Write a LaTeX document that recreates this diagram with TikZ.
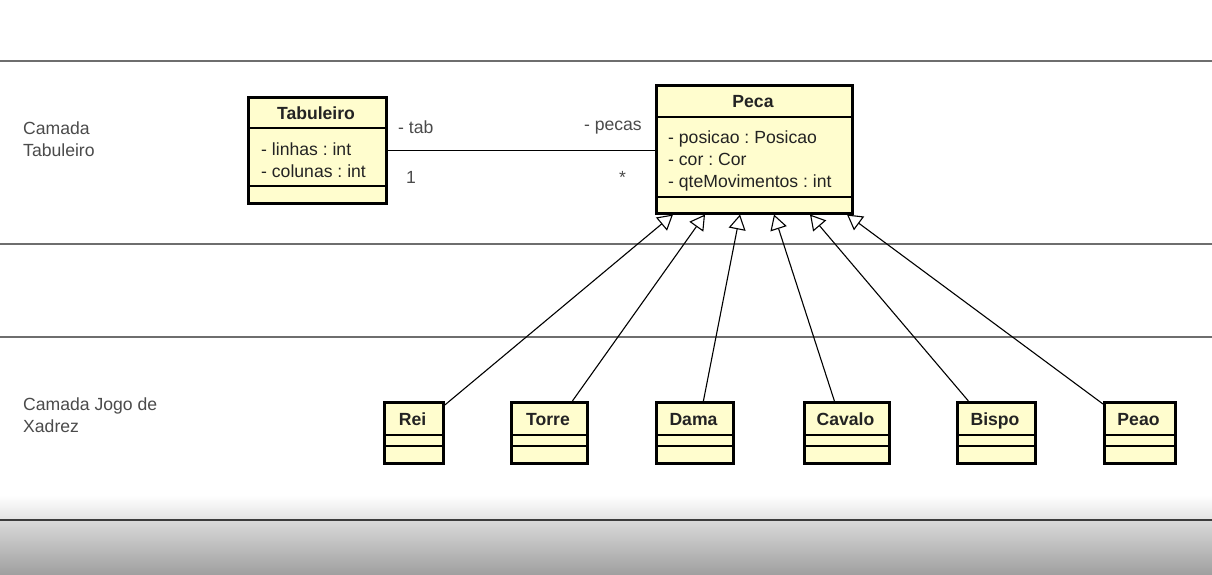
\documentclass[tikz,border=0pt]{standalone}
\usepackage{fontspec}
\setmainfont{Liberation Sans}
\usetikzlibrary{arrows.meta,calc}
\definecolor{clsfill}{RGB}{255,253,206}
\definecolor{txt}{RGB}{35,35,35}
\definecolor{lbl}{RGB}{75,75,75}
\definecolor{sep}{RGB}{110,110,110}
\frenchspacing
\begin{document}
\frenchspacing
\begin{tikzpicture}[x=1pt,y=-1pt,
  cls/.style={draw=black, line width=2.8pt, fill=clsfill, rectangle, inner sep=0pt, anchor=north west},
  div/.style={draw=black, line width=1.2pt},
  cname/.style={font=\fontsize{17.6pt}{20pt}\selectfont\bfseries, text=txt, inner sep=0pt, anchor=base},
  attr/.style={font=\fontsize{17.6pt}{20pt}\selectfont, text=txt, inner sep=0pt, anchor=base west},
  lab/.style={font=\fontsize{17.6pt}{20pt}\selectfont, text=lbl, inner sep=0pt},
  lane/.style={draw=sep, line width=1.2pt},
  gen/.style={draw=black, line width=1.1pt, -{Triangle[open, length=15pt, width=17pt, line width=1.1pt, fill=white]}},
  assoc/.style={draw=black, line width=1.1pt}
]
\useasboundingbox (0,0) rectangle (1212,574);
\fill[white] (0,0) rectangle (1212,574);

% lanes
\draw[lane] (0,61) -- (1212,61);
\draw[lane] (0,244) -- (1212,244);
\draw[lane] (0,337) -- (1212,337);

% bottom band
\shade[top color=white, bottom color={rgb,255:red,228;green,228;blue,228}] (0,495) rectangle (1212,519);
\shade[top color={rgb,255:red,218;green,218;blue,218}, bottom color={rgb,255:red,160;green,160;blue,160}] (0,520) rectangle (1212,574);
\draw[draw={rgb,255:red,60;green,60;blue,60}, line width=2pt] (0,519.5) -- (1212,519.5);

% lane labels
\node[lab, anchor=base west] (l1a) at (23,134) {Camada};
\node[lab, anchor=base west] (l1b) at (23,156.5) {Tabuleiro};
\node[lab, anchor=base west] (l2a) at (23,410) {Camada Jogo de};
\node[lab, anchor=base west] (l2b) at (23,432.5) {Xadrez};

% Tabuleiro
\node[cls, minimum width=138pt, minimum height=106pt] (tab) at (247,96) {};
\draw[div] (247,128) -- (385,128);
\draw[div] (247,186) -- (385,186);
\node[cname] (tabn) at (316,119) {Tabuleiro};
\node[attr] (tab1) at (261,155) {- linhas : int};
\node[attr] (tab2) at (261,177) {- colunas : int};

% Peca
\node[cls, minimum width=196pt, minimum height=128pt] (peca) at (655,84) {};
\draw[div] (655,117) -- (851,117);
\draw[div] (655,197) -- (851,197);
\node[cname] (pecan) at (753,107.5) {Peca};
\node[attr] (pa1) at (668,143) {- posicao : Posicao};
\node[attr] (pa2) at (668,165) {- cor : Cor};
\node[attr] (pa3) at (668,187) {- qteMovimentos : int};

% association
\draw[assoc] (tab.east) -- (tab.east -| peca.west);
\node[lab, anchor=base west] (rtab) at (398,133) {- tab};
\node[lab, anchor=base west] (mtab) at (406,183) {1};
\node[lab, anchor=base east] (rpec) at (642,130) {- pecas};
\node[lab, anchor=base west] (mpec) at (619,183) {*};

% subclasses
\foreach \nm/\txt/\xa/\xb in {rei/Rei/383/442, torre/Torre/510/586, dama/Dama/655/732, cavalo/Cavalo/803/888, bispo/Bispo/956/1034, peao/Peao/1103/1174}{
  \pgfmathsetmacro{\w}{\xb-\xa}
  \node[cls, minimum width=\w pt, minimum height=61pt] (\nm) at (\xa,401) {};
  \draw[div] (\xa,435) -- (\xb,435);
  \draw[div] (\xa,446) -- (\xb,446);
  \node[cname] (\nm n) at ({(\xa+\xb)/2},425) {\txt};
}

% generalization targets
\coordinate (t1) at (673,214.5);
\coordinate (t2) at (705,214.5);
\coordinate (t3) at (740,214.5);
\coordinate (t4) at (774,214.5);
\coordinate (t5) at (810,214.5);
\coordinate (t6) at (847,214.5);

\draw[gen] ($(rei.north east)+(0,4)$) -- (t1);
\draw[gen] ($(torre.north)+(23,0)$) -- (t2);
\draw[gen] ($(dama.north)+(8.5,0)$) -- (t3);
\draw[gen] ($(cavalo.north)+(-12.5,0)$) -- (t4);
\draw[gen] ($(bispo.north)+(-28,0)$) -- (t5);
\draw[gen] ($(peao.north west)+(0,3)$) -- (t6);
\end{tikzpicture}
\end{document}
